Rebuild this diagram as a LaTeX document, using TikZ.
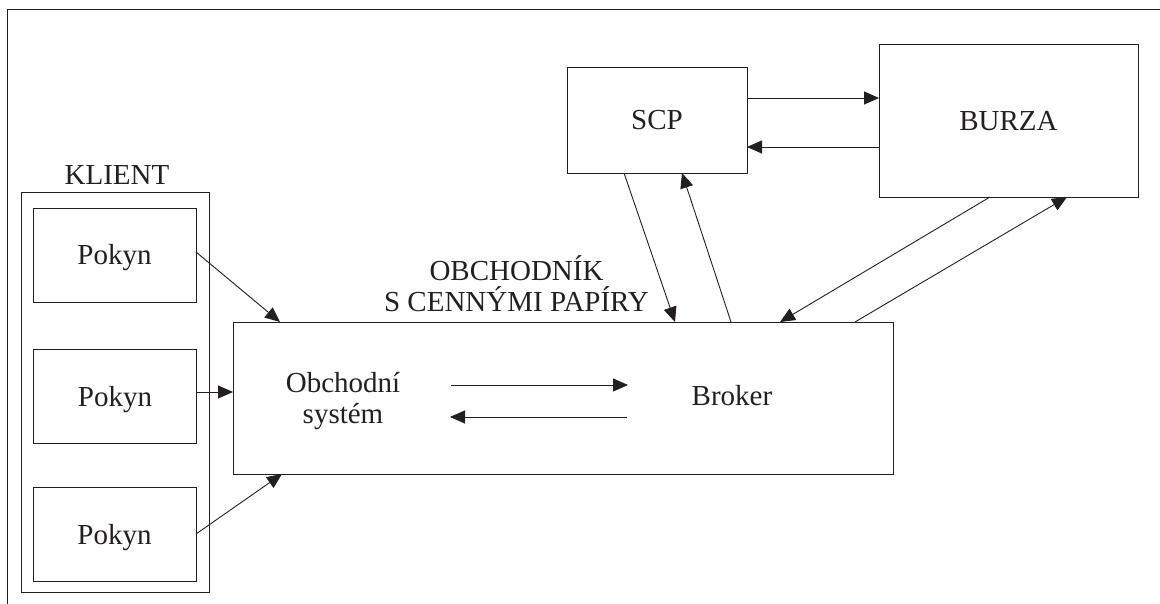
\documentclass[tikz,border=0pt]{standalone}
\usepackage{fontspec}
\setmainfont{Liberation Serif}
\usetikzlibrary{arrows.meta}
\definecolor{ink}{RGB}{35,31,32}
\begin{document}
\begin{tikzpicture}[x=1pt,y=-1pt,
  every node/.style={font=\fontsize{29pt}{31pt}\selectfont, text=ink},
  box/.style={draw=ink, line width=0.9pt, inner sep=0pt, outer sep=0pt,
    text height=20pt, text depth=0pt},
  link/.style={draw=ink, line width=0.9pt,
    -{Triangle[length=15pt,width=13pt]}}]
  \useasboundingbox (0,0) rectangle (1160,604);
  % page frame (top and left edges)
  \draw[ink, line width=0.9pt] (7,604) -- (7,9) -- (1160,9);

  % client with three orders
  \node[box, minimum width=188pt, minimum height=400pt] (klient) at (115,392) {};
  \node[anchor=base, inner sep=0pt] (klientlabel) at (117,185) {KLIENT};
  \node[box, minimum width=163pt, minimum height=94pt] (p1) at (114.5,255) {Pokyn};
  \node[box, minimum width=163pt, minimum height=94pt] (p2) at (115,396) {Pokyn};
  \node[box, minimum width=163pt, minimum height=94pt] (p3) at (114.5,534) {Pokyn};

  % securities dealer
  \node[box, minimum width=660pt, minimum height=152pt] (main) at (563,398) {};
  \node[align=center, anchor=south, inner sep=0pt, text depth=0pt] (dealer)
    at (516.5,312) {OBCHODNÍK\\S CENNÝMI PAPÍRY};
  \node[align=center, anchor=south, inner sep=0pt, text depth=0pt] (system)
    at (343,424) {Obchodní\\systém};
  \node[inner sep=0pt, text height=20pt, text depth=0pt] (broker) at (732,395) {Broker};

  % depository and exchange
  \node[box, minimum width=180pt, minimum height=106pt] (scp) at (657,120) {SCP};
  \node[box, minimum width=259pt, minimum height=153pt] (burza) at (1008.5,120.5) {BURZA};

  % orders into the trading system
  \draw[link] (p1.east |- 0,252) -- (main.north -| 280,0);
  \draw[link] (p2.east |- 0,392) -- (main.west |- 0,392);
  \draw[link] (p3.east) -- (main.south -| 282,0);

  % trading system <-> broker
  \coordinate (s1) at (451,385);
  \coordinate (b1) at (628,385);
  \coordinate (b2) at (627,417);
  \coordinate (s2) at (450,417);
  \draw[link] (s1) -- (b1);
  \draw[link] (b2) -- (s2);

  % dealer <-> SCP
  \draw[link] (scp.south -| 624,0) -- (main.north -| 675,0);
  \draw[link] (main.north -| 731,0) -- (scp.south -| 682,0);

  % dealer <-> exchange
  \draw[link] (burza.south -| 990,0) -- (main.north -| 780,0);
  \draw[link] (main.north -| 855,0) -- (burza.south -| 1067,0);

  % SCP <-> exchange
  \draw[link] (scp.east |- 0,98) -- (burza.west |- 0,98);
  \draw[link] (burza.west |- 0,147) -- (scp.east |- 0,147);
\end{tikzpicture}
\end{document}
